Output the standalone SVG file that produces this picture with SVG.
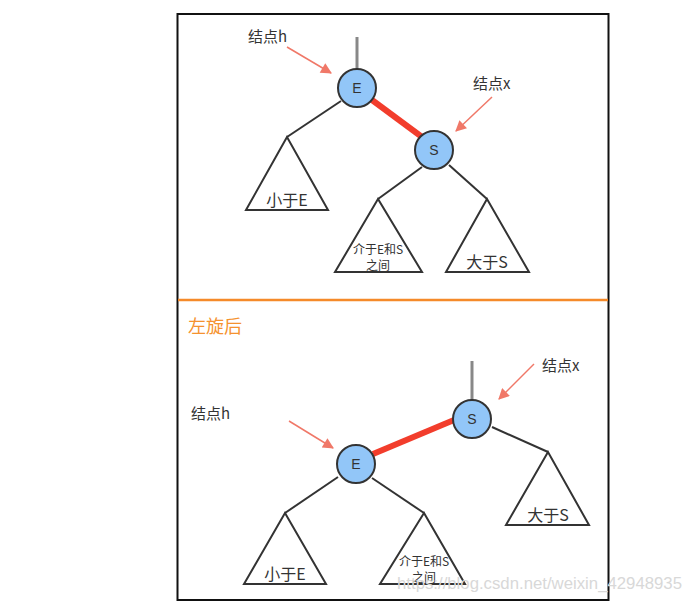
<svg xmlns="http://www.w3.org/2000/svg" width="692" height="603" viewBox="0 0 692 603">
<style>
.t{font-family:"Noto Sans CJK SC","Liberation Sans",sans-serif;fill:#333}
.lbl{font-size:15px}
.tree{fill:#fff;stroke:#333;stroke-width:2}
.edge{stroke:#333;stroke-width:2;fill:none}
.red{stroke:#f23d2c;stroke-width:6;fill:none}
.gray{stroke:#888;stroke-width:3;fill:none}
.arr{stroke:#f07868;stroke-width:1.5;fill:none;marker-end:url(#ah)}
.node{fill:#92c6f8;stroke:#333;stroke-width:2}
.nt{font-family:"Liberation Sans","Noto Sans",sans-serif;font-size:14px;fill:#333;text-anchor:middle}
</style>
<defs>
<marker id="ah" viewBox="0 0 10 10" refX="9" refY="5" markerWidth="13" markerHeight="11" orient="auto" markerUnits="userSpaceOnUse">
<path d="M0,0 L10,5 L0,10 z" fill="#f07868"/>
</marker>
</defs>
<rect x="0" y="0" width="692" height="603" fill="#fff"/>
<rect x="177.5" y="14" width="431" height="586" fill="#fff" stroke="#111" stroke-width="2"/>
<line x1="178" y1="300" x2="608" y2="300" stroke="#f58a2a" stroke-width="2.5"/>
<g id="connectors">
<line class="gray" x1="357" y1="37" x2="357" y2="69"/>
<line class="red" x1="372" y1="100" x2="422" y2="137"/>
<line class="edge" x1="341" y1="101" x2="287" y2="137"/>
<line class="edge" x1="422" y1="167" x2="378" y2="199"/>
<line class="edge" x1="449" y1="165" x2="487" y2="199"/>
<line class="arr" x1="287" y1="47" x2="331" y2="73"/>
<line class="arr" x1="492" y1="97" x2="456" y2="131"/>
<line class="gray" x1="472" y1="361" x2="472" y2="400"/>
<line class="red" x1="373" y1="454" x2="454" y2="420"/>
<line class="edge" x1="492" y1="427" x2="548" y2="452"/>
<line class="edge" x1="338" y1="477" x2="285" y2="513"/>
<line class="edge" x1="372" y1="478" x2="424" y2="513"/>
<line class="arr" x1="534" y1="364" x2="499" y2="399"/>
<line class="arr" x1="289" y1="421" x2="333" y2="448"/>
</g>
<g id="top-E"><circle class="node" cx="357" cy="88" r="19"/><text class="nt" x="357" y="93">E</text></g>
<g id="top-S"><circle class="node" cx="434" cy="150" r="19"/><text class="nt" x="434" y="155">S</text></g>
<g id="top-lessE"><polygon class="tree" points="287,137 246,210 328,210"/><text class="t" x="287" y="206" font-size="16" text-anchor="middle">小于E</text></g>
<g id="top-between"><polygon class="tree" points="378,199 335,272 422,272"/><text class="t" x="378" y="254" font-size="12" text-anchor="middle">介于E和S</text><text class="t" x="378" y="270" font-size="12" text-anchor="middle">之间</text></g>
<g id="top-greaterS"><polygon class="tree" points="487,199 446,272 529,272"/><text class="t" x="487" y="268" font-size="16" text-anchor="middle">大于S</text></g>
<g id="top-label-h"><text class="t lbl" x="248" y="42">结点h</text></g>
<g id="top-label-x"><text class="t lbl" x="473" y="89">结点x</text></g>
<text class="t" x="188" y="333" font-size="18" style="fill:#f5922f">左旋后</text>
<g id="bot-S"><circle class="node" cx="472" cy="419" r="19"/><text class="nt" x="472" y="424">S</text></g>
<g id="bot-E"><circle class="node" cx="356" cy="464" r="19"/><text class="nt" x="356" y="469">E</text></g>
<g id="bot-greaterS"><polygon class="tree" points="548,452 506,525 589,525"/><text class="t" x="548" y="521" font-size="16" text-anchor="middle">大于S</text></g>
<g id="bot-lessE"><polygon class="tree" points="285,513 244,584 326,584"/><text class="t" x="285" y="580" font-size="16" text-anchor="middle">小于E</text></g>
<g id="bot-between"><polygon class="tree" points="424,513 380,584 465,584"/><text class="t" x="424" y="566" font-size="12" text-anchor="middle">介于E和S</text><text class="t" x="424" y="582" font-size="12" text-anchor="middle">之间</text></g>
<g id="bot-label-x"><text class="t lbl" x="542" y="371">结点x</text></g>
<g id="bot-label-h"><text class="t lbl" x="191" y="419">结点h</text></g>
<text x="397" y="589" font-family="Liberation Sans,sans-serif" font-size="16" fill="#d8d8d8" textLength="285" lengthAdjust="spacingAndGlyphs">https://blog.csdn.net/weixin_42948935</text>
</svg>
